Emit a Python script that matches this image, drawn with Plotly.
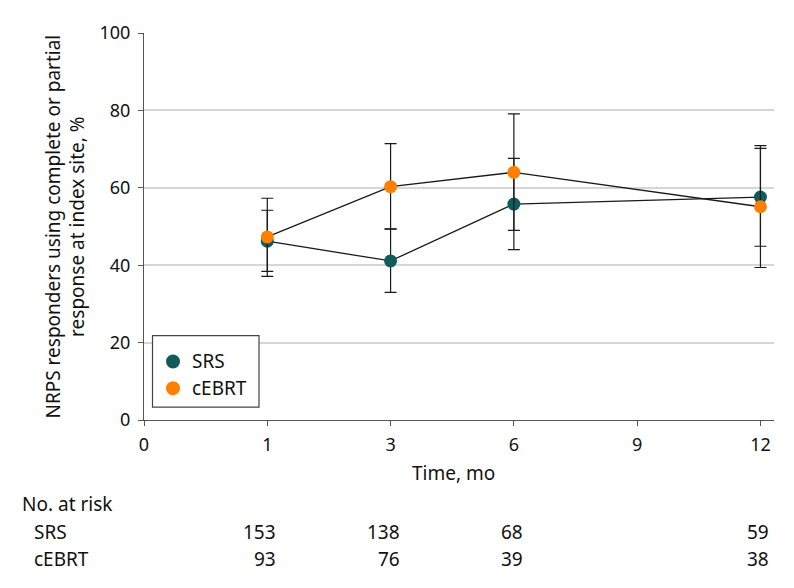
import plotly.graph_objects as go

# ---- data ----
x_categories = ["0", "1", "3", "6", "9", "12"]
time_points = ["1", "3", "6", "12"]

srs_pct = [46.2, 41.1, 55.8, 57.6]
srs_upper = [54.2, 49.3, 67.6, 70.2]
srs_lower = [38.4, 33.0, 44.0, 44.9]

cebrt_pct = [47.3, 60.3, 64.0, 55.1]
cebrt_upper = [57.3, 71.4, 79.1, 70.9]
cebrt_lower = [37.1, 49.4, 49.0, 39.4]

y_ticks = [0, 20, 40, 60, 80, 100]

risk_groups = ["SRS", "cEBRT"]
risk_srs = [153, 138, 68, 59]
risk_cebrt = [93, 76, 39, 38]

# ---- style ----
FONT = "Noto Sans"
TEAL = "#0f5c5b"
ORANGE = "#ff8000"
AXIS = "#555555"
GRID = "#d6d6d6"
FS = 19
TFS = 18

OFF = 8  # page body margin
PAGE_W, PAGE_H = 794, 588
W, H = PAGE_W - OFF, PAGE_H - OFF
# plot area in page pixels
PX0, PX1, PY0, PY1 = 144, 774, 30, 420
L, T = PX0 - OFF, PY0 - OFF
R = W - (PX1 - OFF)
B = H - (PY1 - OFF)
plot_w = PX1 - PX0
plot_h = PY1 - PY0


def py(px):
    """page pixel y (from top) -> paper y"""
    return (PY1 - px) / plot_h


def pxp(px):
    """page pixel x -> paper x"""
    return (px - PX0) / plot_w


fig = go.Figure()


def add_series(name, vals, up, lo, color):
    fig.add_trace(go.Scatter(
        x=time_points, y=vals, name=name, mode="lines+markers",
        line=dict(color="#1a1a1a", width=1.3),
        marker=dict(color=color, size=13),
        error_y=dict(type="data", symmetric=False,
                     array=[u - v for u, v in zip(up, vals)],
                     arrayminus=[v - l for v, l in zip(vals, lo)],
                     color="#1a1a1a", thickness=1.2, width=6),
        showlegend=False,
    ))


add_series("SRS", srs_pct, srs_upper, srs_lower, TEAL)
add_series("cEBRT", cebrt_pct, cebrt_upper, cebrt_lower, ORANGE)

fig.update_layout(
    width=W, height=H,
    margin=dict(l=L, r=R, t=T, b=B),
    paper_bgcolor="white", plot_bgcolor="white",
    font=dict(family=FONT, size=FS, color="#111111"),
    xaxis=dict(type="category", categoryorder="array", categoryarray=x_categories,
               range=[0, 5.11], showgrid=False, zeroline=False,
               showline=True, linecolor=AXIS, linewidth=1.2,
               ticks="outside", ticklen=5, tickcolor=AXIS, tickwidth=1.2,
               tickfont=dict(size=TFS), ticklabelstandoff=3),
    yaxis=dict(range=[0, 100], tickvals=y_ticks, showgrid=True, gridcolor=GRID,
               gridwidth=1.5, zeroline=False,
               showline=True, linecolor=AXIS, linewidth=1.2,
               ticks="outside", ticklen=5, tickcolor=AXIS, tickwidth=1.2,
               tickfont=dict(size=TFS), ticklabelstandoff=4),
)

annotations = []
# y-axis title
annotations.append(dict(
    text="NRPS responders using complete or partial<br>response at index site, %",
    xref="paper", yref="paper", x=pxp(65), y=py(225),
    xanchor="center", yanchor="middle", textangle=-90, showarrow=False,
    font=dict(size=FS)))
# x-axis title
annotations.append(dict(
    text="Time, mo", xref="paper", yref="paper", x=pxp(453), y=py(473),
    xanchor="center", yanchor="middle", showarrow=False, font=dict(size=FS)))

# risk table
annotations.append(dict(text="No. at risk", xref="paper", yref="paper",
                        x=pxp(20), y=py(505), xanchor="left", yanchor="middle",
                        showarrow=False, font=dict(size=FS)))
for grp, counts, ypx in zip(risk_groups, [risk_srs, risk_cebrt], [533, 560]):
    annotations.append(dict(text=grp, xref="paper", yref="paper",
                            x=pxp(32), y=py(ypx), xanchor="left", yanchor="middle",
                            showarrow=False, font=dict(size=FS)))
    for tp, n in zip(time_points, counts):
        annotations.append(dict(text=str(n), xref="x", yref="paper",
                                x=x_categories.index(tp), xshift=11, y=py(ypx),
                                xanchor="right", yanchor="middle",
                                showarrow=False, font=dict(size=FS)))

# manual legend
shapes = []
lx0, lx1, ly0, ly1 = 152.5, 259, 335, 407
shapes.append(dict(type="rect", xref="paper", yref="paper",
                   x0=pxp(lx0), x1=pxp(lx1), y0=py(ly1), y1=py(ly0),
                   line=dict(color="#444444", width=1.2),
                   fillcolor="white", layer="above"))
for name, color, ypx in zip(risk_groups, [TEAL, ORANGE], [361, 388]):
    shapes.append(dict(type="circle", xref="paper", yref="paper",
                       xsizemode="pixel", ysizemode="pixel",
                       xanchor=pxp(173), yanchor=py(ypx),
                       x0=-7, x1=7, y0=-7, y1=7,
                       fillcolor=color, line=dict(width=0), layer="above"))
    annotations.append(dict(text=name, xref="paper", yref="paper",
                            x=pxp(190), y=py(ypx),
                            xanchor="left", yanchor="middle", showarrow=False,
                            font=dict(size=FS)))

fig.update_layout(annotations=annotations, shapes=shapes)
fig.write_html("out.html")
